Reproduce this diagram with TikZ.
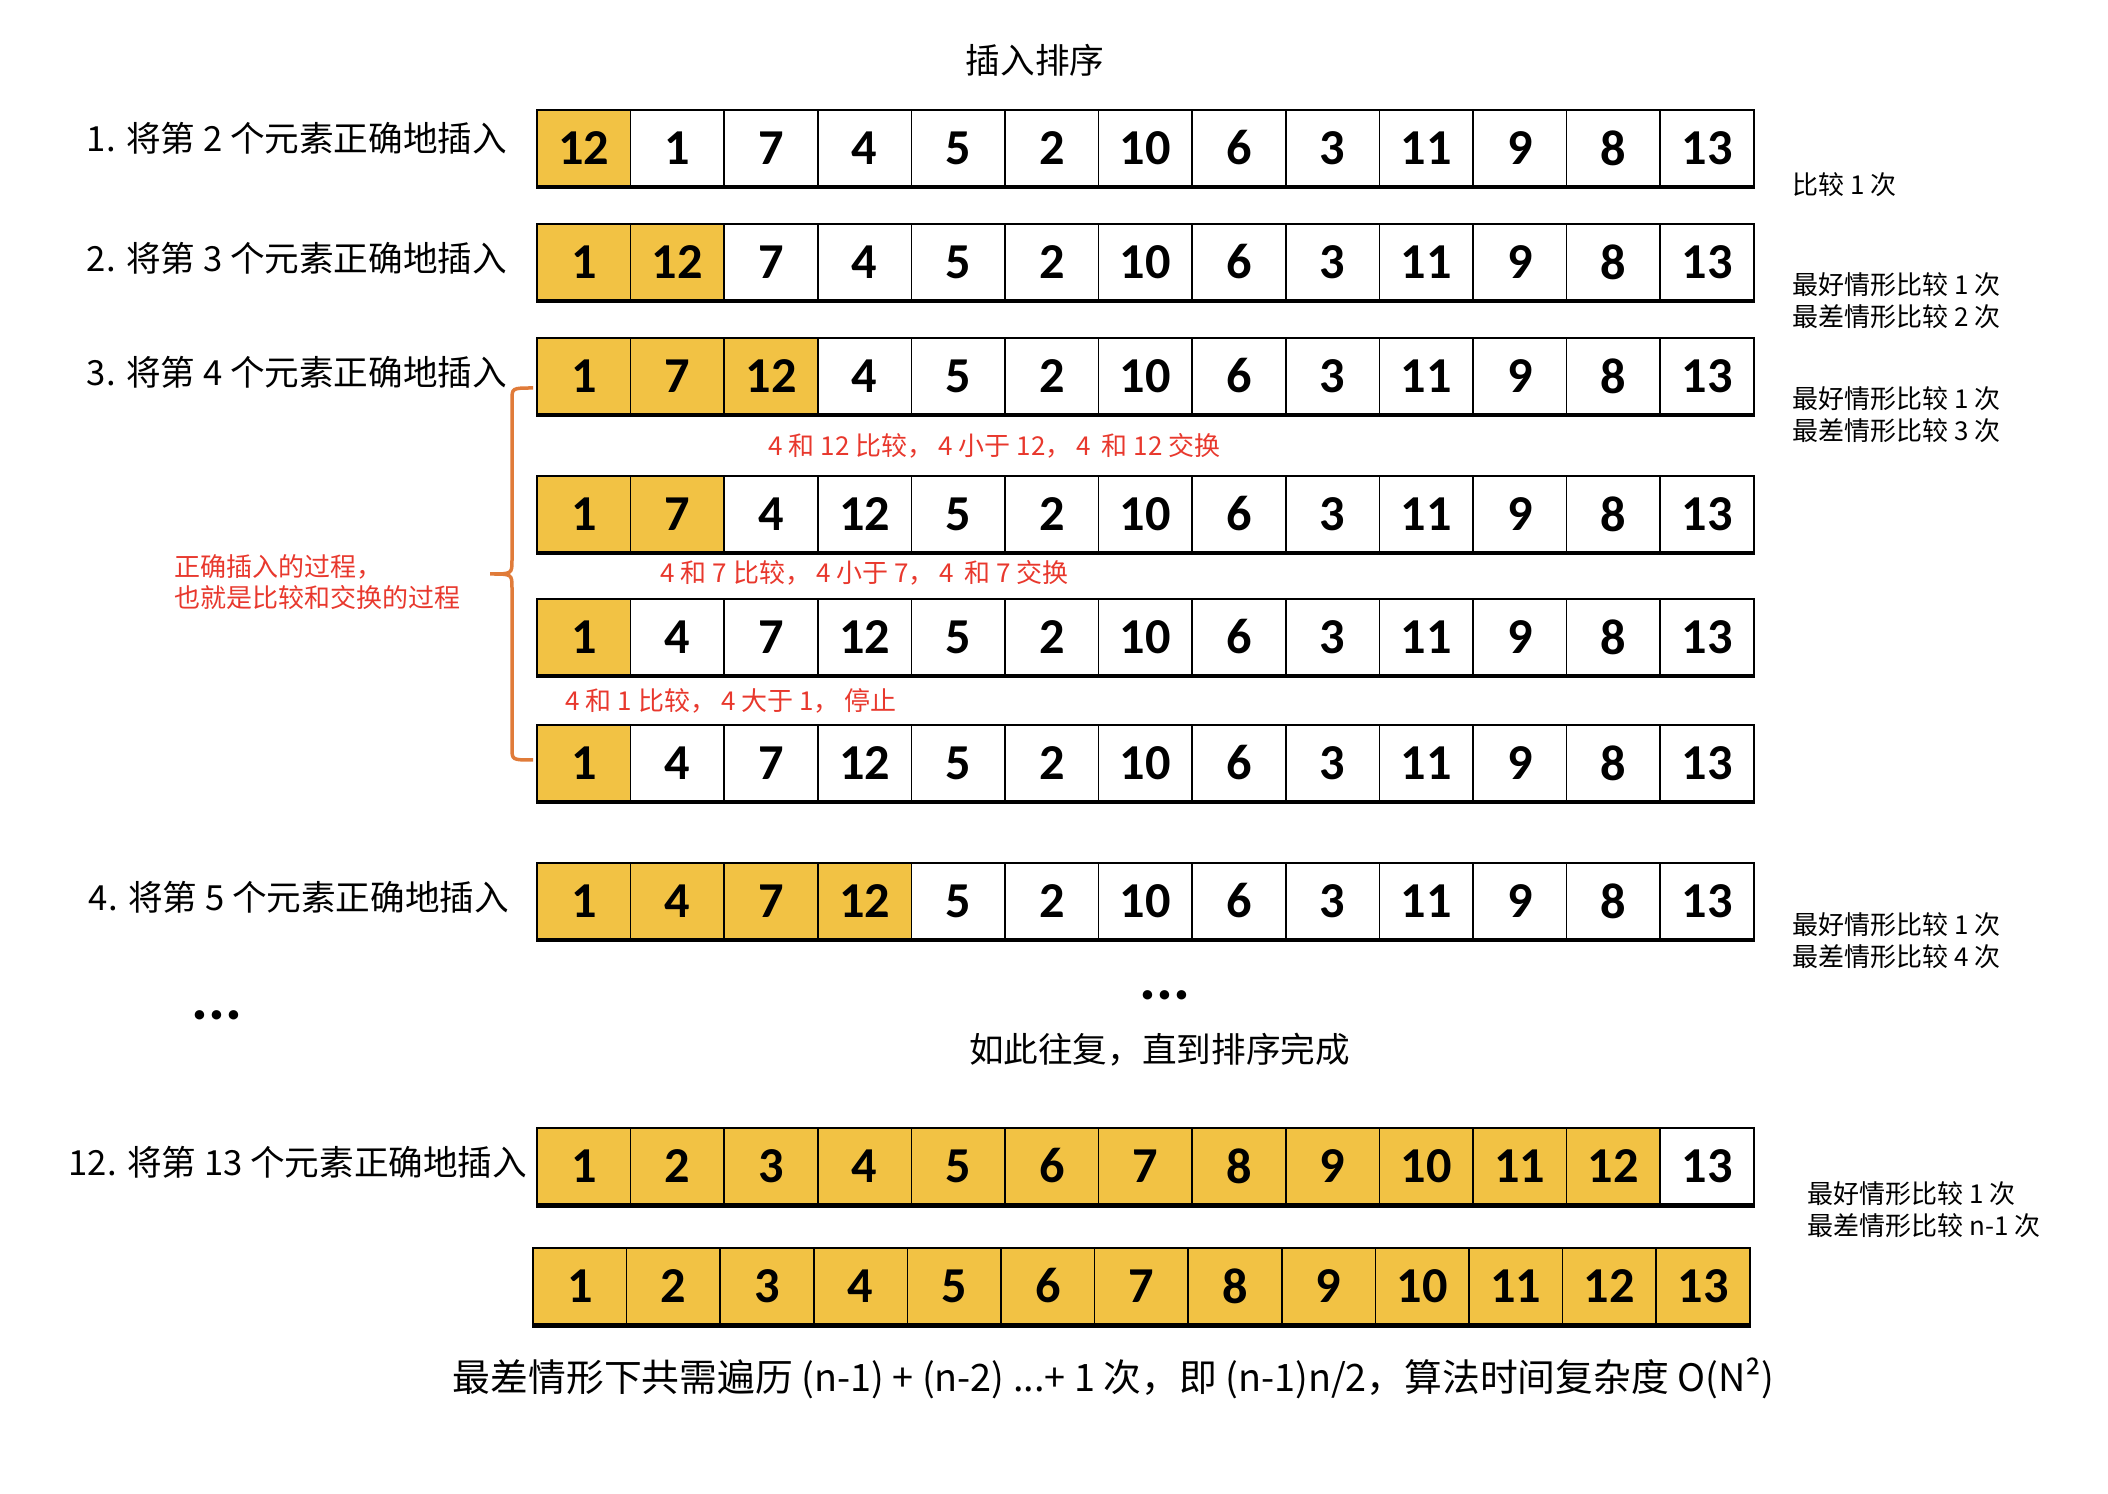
\documentclass[tikz,border=0pt]{standalone}
\usepackage{fontspec}
\setmainfont{Carlito}
\newfontfamily\cjk{Noto Sans CJK SC}

\definecolor{sortyellow}{HTML}{F2C244}
\definecolor{noteRed}{HTML}{E8382D}
\definecolor{braceOrange}{HTML}{E07B39}

% one row of the array: name, left, top, sorted cells, values
\newcommand{\arrayrow}[5]{%
  \foreach \v [count=\i] in {#5} {
    \ifnum\i>#4 \def\cellfill{white}\else\def\cellfill{sortyellow}\fi
    \node[cell, fill=\cellfill] (#1-\i) at ({#2+(\i-0.5)*9.36},{#3+3.8}) {\v};
  }
  \draw[line width=0.35mm] ([yshift=-0.1mm]#1-1.south west) -- ([yshift=-0.1mm]#1-13.south east);
}
\newcommand{\gap}{\hspace{0.5mm}}

\begin{document}
\begin{tikzpicture}[
    x=1mm, y=-1mm,
    font=\cjk\fontsize{9.85}{12}\selectfont,
    cell/.style={
        draw,
        line width=0.15mm,
        minimum width=9.36mm,
        minimum height=7.6mm,
        inner sep=0pt,
        font=\fontsize{14.3}{16}\selectfont\bfseries
    },
    note/.style={anchor=west, align=left, inner sep=0pt, font=\cjk\fontsize{7.4}{9.1}\selectfont},
    swapnote/.style={anchor=west, inner sep=0pt, text=noteRed, font=\cjk\fontsize{7.4}{9}\selectfont},
    dots/.style={font=\fontsize{18}{20}\selectfont\bfseries}
]
\useasboundingbox (0,0) rectangle (210.8,149.4);

\node (title) at (103.5,6.0) {插入排序};

% Rows
\arrayrow{r1}{53.7}{11.0}{1}{12,1,7,4,5,2,10,6,3,11,9,8,13}
\arrayrow{r2}{53.7}{22.4}{2}{1,12,7,4,5,2,10,6,3,11,9,8,13}
\arrayrow{r3}{53.7}{33.8}{3}{1,7,12,4,5,2,10,6,3,11,9,8,13}
\arrayrow{r4}{53.7}{47.6}{2}{1,7,4,12,5,2,10,6,3,11,9,8,13}
\arrayrow{r5}{53.7}{59.9}{1}{1,4,7,12,5,2,10,6,3,11,9,8,13}
\arrayrow{r6}{53.7}{72.5}{1}{1,4,7,12,5,2,10,6,3,11,9,8,13}
\arrayrow{r7}{53.7}{86.3}{4}{1,4,7,12,5,2,10,6,3,11,9,8,13}
\arrayrow{r8}{53.7}{112.8}{12}{1,2,3,4,5,6,7,8,9,10,11,12,13}
\arrayrow{r9}{53.3}{124.8}{13}{1,2,3,4,5,6,7,8,9,10,11,12,13}

% Row titles
\node (l1) at (29.7,13.8) {1. 将第 2 个元素正确地插入};
\node (l2) at (29.7,25.8) {2. 将第 3 个元素正确地插入};
\node (l3) at (29.7,37.2) {3. 将第 4 个元素正确地插入};
\node (l4) at (29.9,89.7) {4. 将第 5 个元素正确地插入};
\node (l12) at (29.8,116.2) {12. 将第 13 个元素正确地插入};

% Comparisons
\node[note] (n1) at (179.2,18.5) {比较 1 次};
\node[note] (n2) at (179.2,30.1) {最好情形比较 1 次\\最差情形比较 2 次};
\node[note] (n3) at (179.2,41.5) {最好情形比较 1 次\\最差情形比较 3 次};
\node[note] (n4) at (179.2,94.1) {最好情形比较 1 次\\最差情形比较 4 次};
\node[note] (n12) at (180.7,121.0) {最好情形比较 1 次\\最差情形比较 n-1 次};

% Swaps
\node[swapnote] (s1) at (76.8,44.6) {4 和 12 比较，\gap 4 小于 12，\gap 4\gap{} 和 12 交换};
\node[swapnote] (s2) at (66.0,57.3) {4 和 7 比较，\gap 4 小于 7，\gap 4\gap{} 和 7 交换};
\node[swapnote] (s3) at (56.5,70.1) {4 和 1 比较，\gap 4 大于 1，\gap 停止};

\draw[braceOrange, line width=0.35mm]
    (53.3,38.8) .. controls (51.2,38.8) .. (51.2,40.0) -- (51.2,56.0)
    .. controls (51.2,57.4) .. (49.0,57.4) .. controls (51.2,57.4) .. (51.2,58.8)
    -- (51.2,74.8) .. controls (51.2,76.0) .. (53.3,76.0);
\node[anchor=west, align=left, inner sep=0pt, text=noteRed,
      font=\cjk\fontsize{7.4}{8.8}\selectfont] (why) at (17.4,58.25)
    {正确插入的过程，\\也就是比较和交换的过程};

\node[dots] (dotsL) at (21.7,101.5) {...};
\node[dots] (dotsM) at (116.5,99.5) {...};
\node (more) at (115.95,105.0) {如此往复，直到排序完成};

\node[font=\cjk\fontsize{10.75}{12}\selectfont] (cost) at (111.35,137.8)
    {最差情形下共需遍历 (n-1) + (n-2) ...+ 1 次，即 (n-1)n/2，算法时间复杂度 O(N²)};

\end{tikzpicture}
\end{document}
